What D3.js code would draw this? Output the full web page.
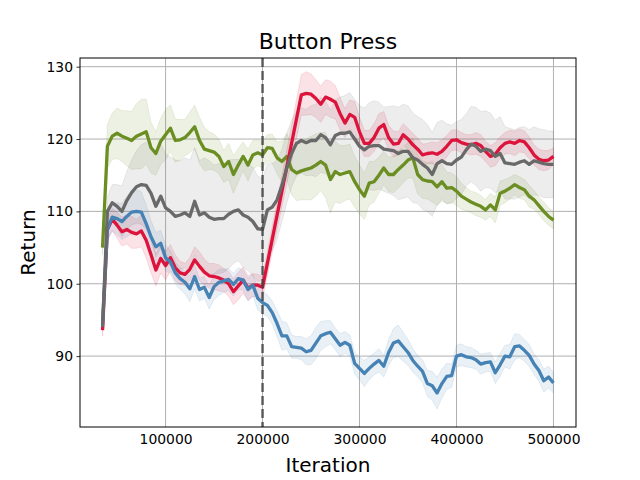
<!DOCTYPE html>
<html>
<head>
<meta charset="utf-8">
<script src="https://cdn.jsdelivr.net/npm/d3@7"></script>
<style>
  body { margin: 0; background: #fff; }
  text { font-family: "DejaVu Sans", sans-serif; }
</style>
</head>
<body>
<div id="chart"></div>
<script>
// iterations (every 5000 steps)
var iters = [35000, 40000, 45000, 50000, 55000, 60000, 65000, 70000, 75000, 80000, 85000, 90000, 95000, 100000,
  105000, 110000, 115000, 120000, 125000, 130000, 135000, 140000, 145000, 150000, 155000, 160000, 165000, 170000, 175000, 180000, 185000, 190000, 195000, 200000,
  205000, 210000, 215000, 220000, 225000, 230000, 235000, 240000, 245000, 250000, 255000, 260000, 265000, 270000, 275000, 280000, 285000, 290000, 295000, 300000,
  305000, 310000, 315000, 320000, 325000, 330000, 335000, 340000, 345000, 350000, 355000, 360000, 365000, 370000, 375000, 380000, 385000, 390000, 395000, 400000,
  405000, 410000, 415000, 420000, 425000, 430000, 435000, 440000, 445000, 450000, 455000, 460000, 465000, 470000, 475000, 480000, 485000, 490000, 495000, 500000];

var greenMean = [105.0, 119.0, 120.4, 120.8, 120.4, 120.1, 119.8, 120.4, 120.7, 121.0, 118.8, 118.0, 119.7, 120.6,
  121.5, 119.8, 119.9, 120.2, 120.9, 121.7, 119.8, 118.6, 118.4, 118.2, 117.6, 116.2, 116.9, 115.1, 116.4, 117.6, 116.4, 117.8, 118.1, 117.8,
  118.8, 118.7, 117.4, 116.9, 117.6, 115.8, 115.3, 115.6, 115.8, 116.0, 116.4, 116.9, 116.4, 114.4, 115.5, 115.1, 115.3, 115.5, 114.1, 113.0,
  112.1, 113.9, 114.1, 115.0, 116.0, 115.1, 115.1, 115.8, 116.4, 117.1, 117.4, 115.1, 114.4, 114.2, 114.1, 113.4, 114.1, 113.2, 113.3, 112.8,
  112.1, 111.7, 111.3, 111.0, 110.7, 110.2, 110.9, 110.2, 112.5, 112.8, 113.2, 113.7, 113.3, 113.0, 112.1, 111.6, 110.8, 110.0, 109.3, 108.8];
var greenStd = [1.0, 3.0, 3.2, 3.5, 3.5, 3.8, 4.0, 4.5, 4.8, 4.5, 3.5, 3.0, 3.2, 3.5,
  3.2, 3.0, 2.8, 2.5, 2.8, 3.0, 3.2, 3.0, 2.6, 2.5, 2.4, 2.2, 2.5, 2.6, 2.3, 2.0, 2.2, 2.0, 1.8, 1.8,
  1.8, 2.0, 2.2, 2.8, 3.2, 3.5, 3.8, 4.0, 4.2, 4.4, 4.3, 4.0, 4.5, 4.6, 4.2, 4.0, 3.8, 3.8, 3.5, 3.4,
  3.2, 3.0, 2.8, 2.5, 2.3, 2.4, 2.5, 2.6, 2.4, 2.5, 2.8, 2.7, 2.6, 2.5, 2.8, 2.6, 2.4, 2.2, 2.0, 2.0,
  1.8, 1.6, 1.5, 1.6, 1.5, 1.4, 1.6, 1.8, 1.7, 1.6, 1.5, 1.4, 1.5, 1.4, 1.5, 1.3, 1.2, 1.3, 1.2, 1.2];

var grayMean = [94.0, 110.0, 111.2, 110.7, 110.0, 111.5, 112.6, 113.4, 113.7, 113.6, 112.5, 110.7, 112.1, 110.5,
  110.0, 109.3, 109.5, 109.8, 109.3, 111.4, 109.5, 109.8, 109.2, 108.9, 109.0, 109.0, 109.6, 110.0, 110.2, 109.5, 109.2, 108.6, 107.6, 107.5,
  110.2, 110.6, 111.6, 113.6, 116.0, 118.0, 119.4, 119.8, 119.5, 119.8, 119.8, 120.6, 120.2, 119.2, 120.5, 120.8, 120.8, 121.0, 120.0, 119.0,
  118.5, 119.0, 119.1, 119.1, 118.6, 118.5, 118.4, 118.0, 118.3, 118.3, 117.4, 117.1, 116.5, 116.0, 115.1, 116.6, 117.0, 116.6, 116.5, 117.1,
  117.5, 118.5, 119.3, 119.0, 118.3, 118.6, 118.4, 117.6, 118.0, 116.7, 116.6, 116.5, 116.8, 117.0, 116.5, 117.0, 116.8, 116.6, 116.5, 116.5];
var grayStd = [0.5, 2.0, 2.5, 3.0, 3.5, 4.0, 4.5, 5.0, 5.5, 6.0, 6.5, 7.0, 7.2, 7.5,
  7.5, 7.8, 7.5, 7.6, 7.8, 7.4, 7.5, 7.6, 7.8, 7.5, 7.6, 7.4, 7.5, 7.2, 7.0, 7.2, 7.4, 7.5, 7.3, 7.0,
  6.5, 6.0, 5.5, 5.0, 4.8, 4.6, 4.5, 4.5, 4.6, 4.8, 5.0, 5.2, 5.0, 4.8, 4.9, 5.0, 5.2, 5.4, 5.5, 5.6,
  5.8, 6.0, 6.2, 6.0, 5.8, 6.0, 6.2, 6.4, 6.5, 6.3, 6.2, 6.0, 6.2, 6.0, 5.8, 5.7, 5.6, 5.5, 5.4, 5.3,
  5.2, 5.0, 5.2, 5.4, 5.5, 5.3, 5.2, 5.0, 5.1, 5.0, 4.9, 4.8, 4.8, 4.7, 4.8, 4.7, 4.6, 4.7, 4.6, 4.6];

// red has no logged points between 200k and 240k
var redMean = [93.6, 107.5, 108.9, 108.1, 107.2, 107.5, 107.1, 106.9, 107.3, 106.0, 104.0, 101.9, 103.5, 102.5,
  103.6, 102.2, 101.5, 101.3, 102.0, 103.3, 102.4, 101.6, 101.1, 101.0, 100.8, 100.5, 100.0, 98.9, 99.7, 100.5, 99.4, 99.8, 99.8, 99.5,
  null, null, null, null, null, null, null, 126.1, 126.3, 126.2, 125.6, 124.8, 125.8, 125.5, 125.1, 123.5, 122.2, 123.4, 123.0, 121.0,
  119.4, 119.4, 120.2, 121.5, 122.0, 120.2, 119.3, 119.4, 120.6, 120.0, 119.2, 118.6, 117.8, 118.0, 118.1, 117.9, 118.3, 119.0, 119.8, 119.9,
  119.5, 119.3, 119.2, 119.4, 119.1, 118.3, 117.6, 117.9, 118.8, 119.4, 119.6, 119.4, 119.8, 119.6, 118.8, 117.8, 117.2, 117.0, 117.1, 117.6];
var redStd = [0.8, 1.5, 1.5, 1.8, 2.0, 2.0, 2.2, 2.0, 2.2, 2.4, 2.5, 2.2, 2.0, 2.0,
  1.8, 1.8, 1.6, 1.5, 1.6, 1.8, 2.0, 1.8, 1.7, 1.8, 1.8, 1.6, 1.7, 1.8, 1.9, 1.8, 1.7, 1.6, 1.5, 1.5,
  null, null, null, null, null, null, null, 2.8, 3.0, 2.8, 2.6, 2.5, 2.4, 2.5, 2.3, 2.2, 2.0, 2.0, 2.2, 2.0,
  1.8, 1.8, 1.9, 2.0, 1.8, 1.7, 1.8, 1.6, 1.5, 1.5, 1.6, 1.5, 1.5, 1.4, 1.5, 1.6, 1.6, 1.5, 1.4, 1.4,
  1.4, 1.3, 1.4, 1.5, 1.5, 1.4, 1.5, 1.6, 1.5, 1.5, 1.6, 1.7, 1.6, 1.5, 1.5, 1.4, 1.4, 1.4, 1.3, 1.2];

var blueMean = [94.5, 107.5, 109.2, 109.0, 108.6, 109.3, 109.9, 110.0, 109.9, 108.3, 106.5, 105.1, 105.6, 103.6,
  103.0, 101.5, 100.7, 100.2, 99.3, 101.0, 99.2, 99.5, 98.1, 99.6, 100.2, 100.4, 100.6, 99.9, 100.7, 100.5, 99.2, 99.8, 98.0, 97.4,
  97.0, 96.0, 94.5, 92.8, 92.8, 91.3, 91.2, 91.1, 90.6, 90.8, 91.8, 92.8, 93.1, 93.3, 92.4, 91.5, 91.9, 91.5, 89.0, 88.3,
  87.6, 88.3, 88.9, 89.4, 88.6, 90.5, 91.8, 92.1, 91.3, 90.5, 89.4, 88.6, 87.9, 86.2, 85.9, 84.9, 86.2, 87.2, 87.3, 90.0,
  90.2, 89.9, 89.8, 89.5, 88.9, 89.1, 89.2, 87.7, 88.8, 90.0, 89.9, 91.3, 91.4, 90.8, 90.1, 88.9, 88.0, 86.6, 87.1, 86.3];
var blueStd = [0.8, 1.5, 2.0, 2.2, 2.5, 2.8, 3.0, 3.0, 2.8, 2.6, 2.2, 2.0, 1.8, 1.8,
  1.6, 1.5, 1.5, 1.6, 1.8, 1.7, 1.6, 1.5, 1.6, 1.8, 1.8, 1.6, 1.5, 1.6, 1.5, 1.4, 1.6, 1.5, 1.6, 1.6,
  1.5, 1.6, 1.8, 2.0, 1.8, 1.6, 1.5, 1.6, 1.8, 2.0, 2.2, 2.0, 1.8, 1.6, 1.5, 1.6, 1.5, 1.4, 1.5, 1.6,
  1.8, 1.6, 1.5, 1.6, 1.5, 1.8, 2.0, 2.2, 2.0, 1.8, 1.6, 1.5, 1.6, 1.8, 2.0, 2.2, 2.0, 1.8, 1.6, 1.5,
  1.5, 1.4, 1.4, 1.3, 1.4, 1.3, 1.3, 1.5, 1.6, 1.5, 1.7, 1.8, 1.6, 1.5, 1.5, 1.4, 1.5, 1.6, 1.5, 1.4];

var xTicks = [100000, 200000, 300000, 400000, 500000];
var yTicks = [90, 100, 110, 120, 130];
var switchIter = 200000;

// draw order matters for overlaps
var series = [
  {name: 'green', mean: greenMean, std: greenStd, color: '#6b8e23'},
  {name: 'red', mean: redMean, std: redStd, color: '#dc143c'},
  {name: 'blue', mean: blueMean, std: blueStd, color: '#4682b4'},
  {name: 'gray', mean: grayMean, std: grayStd, color: '#696969'}
];

var width = 640, height = 480;
var margin = {left: 80, right: 64, top: 58, bottom: 53};

var svg = d3.select('#chart').append('svg')
  .attr('width', width)
  .attr('height', height);

var x = d3.scaleLinear().domain([11750, 523250]).range([margin.left, width - margin.right]);
var y = d3.scaleLinear().domain([80.2, 131.2]).range([height - margin.bottom, margin.top]);

svg.append('clipPath').attr('id', 'plot-clip').append('rect')
  .attr('x', margin.left).attr('y', margin.top)
  .attr('width', width - margin.left - margin.right)
  .attr('height', height - margin.top - margin.bottom);

// grid
var grid = svg.append('g').attr('class', 'grid');
grid.selectAll('line.gx').data(xTicks).enter().append('line')
  .attr('x1', function(d){return x(d);}).attr('x2', function(d){return x(d);})
  .attr('y1', margin.top).attr('y2', height - margin.bottom)
  .attr('stroke', '#b0b0b0').attr('stroke-width', 1);
grid.selectAll('line.gy').data(yTicks).enter().append('line')
  .attr('y1', function(d){return y(d);}).attr('y2', function(d){return y(d);})
  .attr('x1', margin.left).attr('x2', width - margin.right)
  .attr('stroke', '#b0b0b0').attr('stroke-width', 1);

var plot = svg.append('g').attr('clip-path', 'url(#plot-clip)');

series.forEach(function(s){
  var pts = iters.map(function(it, i){return {x: it, m: s.mean[i], sd: s.std[i]};})
    .filter(function(p){return p.m !== null;});
  var area = d3.area()
    .x(function(d){return x(d.x);})
    .y0(function(d){return y(d.m - d.sd);})
    .y1(function(d){return y(d.m + d.sd);});
  plot.append('path').datum(pts)
    .attr('d', area)
    .attr('fill', s.color).attr('fill-opacity', 0.12)
    .attr('stroke', s.color).attr('stroke-opacity', 0.12).attr('stroke-width', 1);
});

series.forEach(function(s){
  var pts = iters.map(function(it, i){return {x: it, m: s.mean[i]};})
    .filter(function(p){return p.m !== null;});
  var line = d3.line().x(function(d){return x(d.x);}).y(function(d){return y(d.m);});
  plot.append('path').datum(pts)
    .attr('d', line)
    .attr('fill', 'none').attr('stroke', s.color)
    .attr('stroke-width', 3.3).attr('stroke-linejoin', 'round');
});

// switch marker
svg.append('line')
  .attr('x1', x(switchIter)).attr('x2', x(switchIter))
  .attr('y1', margin.top).attr('y2', height - margin.bottom)
  .attr('stroke', '#404040').attr('stroke-opacity', 0.8)
  .attr('stroke-width', 2.5).attr('stroke-dasharray', '9,4');

// axes
var xAxis = d3.axisBottom(x).tickValues(xTicks).tickFormat(d3.format('d')).tickSize(3.5).tickPadding(3.5);
var yAxis = d3.axisLeft(y).tickValues(yTicks).tickFormat(d3.format('d')).tickSize(3.5).tickPadding(3.5);

var gx = svg.append('g').attr('transform', 'translate(0,' + (height - margin.bottom) + ')').call(xAxis);
var gy = svg.append('g').attr('transform', 'translate(' + margin.left + ',0)').call(yAxis);
[gx, gy].forEach(function(g){
  g.select('.domain').remove();
  g.selectAll('text').attr('font-size', '13.9px').attr('fill', '#000').attr('font-family', '"DejaVu Sans", sans-serif');
  g.selectAll('line').attr('stroke', '#000').attr('stroke-width', 0.8);
});
// the x ticks are not drawn in the original, only labels
gx.selectAll('line').attr('stroke', 'none');

// frame
svg.append('rect')
  .attr('x', margin.left).attr('y', margin.top)
  .attr('width', width - margin.left - margin.right)
  .attr('height', height - margin.top - margin.bottom)
  .attr('fill', 'none').attr('stroke', '#000').attr('stroke-width', 1);

svg.append('text')
  .attr('x', (margin.left + width - margin.right) / 2).attr('y', 49)
  .attr('text-anchor', 'middle').attr('font-size', '22px')
  .text('Button Press');

svg.append('text')
  .attr('x', (margin.left + width - margin.right) / 2).attr('y', 472)
  .attr('text-anchor', 'middle').attr('font-size', '20px')
  .text('Iteration');

svg.append('text')
  .attr('transform', 'translate(35,' + ((margin.top + height - margin.bottom) / 2) + ') rotate(-90)')
  .attr('text-anchor', 'middle').attr('font-size', '20px')
  .text('Return');
</script>
</body>
</html>
